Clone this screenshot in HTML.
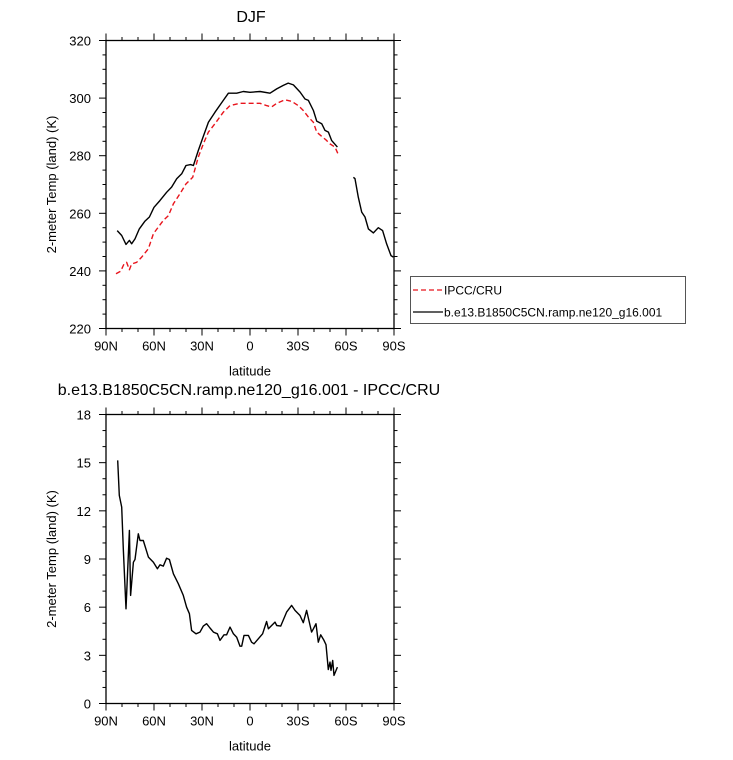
<!DOCTYPE html>
<html><head><meta charset="utf-8"><style>
body{margin:0;background:#fff;}
svg text{font-family:"Liberation Sans",sans-serif;fill:#000;}
</style></head><body>
<svg id="c" width="733" height="755" xmlns="http://www.w3.org/2000/svg"></svg>
<script>
const xTickLabels=["90N","60N","30N","0","30S","60S","90S"];
const xTickLats=[90,60,30,0,-30,-60,-90];
const topYTicks=[220,240,260,280,300,320];
const botYTicks=[0,3,6,9,12,15,18];
const modelLat=[83.0,80.2,77.5,75.4,74.0,71.9,69.2,65.6,62.9,60.0,56.3,52.1,49.0,45.8,42.7,40.0,37.1,35.4,32.3,29.2,26.0,21.9,16.7,13.5,8.3,4.2,0,-6.3,-12.5,-16.7,-20.8,-23.9,-27.1,-31.3,-34.4,-36.5,-39.6,-41.7,-44.8,-46.9,-49.0,-51.0,-54.6,null,-64.6,-65.6,-67.7,-69.8,-71.9,-74.0,-77.1,-80.2,-82.9,-85.4,-88.1,-89.6];
const modelVal=[254.0,252.3,249.2,250.6,249.4,251.1,254.6,257.3,258.7,262.1,264.4,267.3,269.1,272.0,273.7,276.6,276.9,276.6,281.8,286.7,291.6,295.1,299.2,301.7,301.7,302.3,302.0,302.3,301.7,303.2,304.4,305.2,304.6,302.1,299.7,299.2,295.7,292.0,291.1,288.8,288.2,285.3,283.0,null,272.5,272.0,265.6,260.4,258.7,254.6,253.2,255.0,254.0,249.4,245.3,244.8];
const obsLat=[83.75,80.8,78.75,77.1,75.4,74.0,70.8,67.7,63.5,60.4,57.3,54.2,51.0,47.9,43.75,40.0,35.8,32.3,29.2,26.0,21.9,16.7,12.5,6.25,0,-6.25,-10.4,-13.5,-16.7,-21.9,-26.0,-30.2,-33.3,-36.5,-39.6,-41.7,-44.8,-47.5,-50.0,-53.1,-55.2];
const obsVal=[239.0,239.9,242.4,243.0,240.4,242.4,243.0,244.8,247.7,252.9,255.2,257.5,259.2,263.3,266.8,270.2,272.5,279.5,284.1,288.2,291.1,295.1,297.4,298.2,298.2,298.2,297.4,296.9,298.2,299.4,298.9,297.4,295.7,293.4,291.6,288.2,286.7,285.5,284.1,283.0,280.4];
const diffLat=[82.7,81.7,80.2,79.2,77.5,75.4,74.6,72.9,71.9,69.8,68.75,66.7,63.5,60.4,57.9,56.25,54.2,52.1,50.4,47.9,44.8,41.7,39.6,37.9,36.5,33.75,31.25,29.2,27.1,25.0,22.9,20.4,18.75,16.25,14.6,12.5,10.4,8.3,6.25,5.2,3.75,1.0,-1.0,-2.5,-5.2,-7.9,-10.4,-11.5,-15.6,-16.7,-19.2,-22.9,-26.0,-28.1,-31.25,-33.3,-35.4,-38.5,-39.6,-41.25,-42.7,-44.2,-46.25,-47.5,-48.95,-50.0,-50.6,-51.7,-52.5,-54.6];
const diffVal=[15.14,12.96,12.23,9.64,5.90,10.78,6.73,8.80,8.97,10.57,10.15,10.15,9.12,8.80,8.39,8.64,8.56,9.05,8.97,8.08,7.46,6.73,6.00,5.59,4.55,4.34,4.45,4.82,4.97,4.70,4.45,4.34,3.93,4.28,4.28,4.76,4.34,4.13,3.57,3.57,4.24,4.24,3.82,3.72,4.03,4.34,5.11,4.65,5.07,4.86,4.82,5.69,6.11,5.80,5.48,5.03,5.80,4.45,4.65,4.97,3.82,4.28,3.93,3.66,2.12,2.58,2.06,2.68,1.75,2.27];

const NS="http://www.w3.org/2000/svg";
const svg=document.getElementById('c');
function el(t,a,txt){const e=document.createElementNS(NS,t);for(const k in a)e.setAttribute(k,a[k]);if(txt!==undefined)e.textContent=txt;svg.appendChild(e);return e;}
const X0=106,X1=394;
const xs=lat=>X0+(90-lat)*(X1-X0)/180;

function panel(name,top,bot,ymin,ymax,yTicks,yMinorStep,ylabel){
  const ys=v=>bot-(v-ymin)*(bot-top)/(ymax-ymin);
  const f=el('rect',{x:X0,y:top,width:X1-X0,height:bot-top,fill:'none',stroke:'#000','stroke-width':1.3});
  
  
  for(let lat=90;lat>=-90;lat-=10){
    const major=lat%30===0;const L=major?7:3.5;const x=xs(lat);
    el('line',{x1:x,y1:top,x2:x,y2:top-L,stroke:'#000','stroke-width':1});
    const t=el('line',{x1:x,y1:bot,x2:x,y2:bot+L,stroke:'#000','stroke-width':1});
    
    
  }
  xTickLats.forEach((lat,i)=>{
    const t=el('text',{x:xs(lat),y:bot+22,'font-size':13,'text-anchor':'middle'},xTickLabels[i]);
    
    
  });
  for(let v=ymin;v<=ymax+1e-6;v+=yMinorStep){
    const major=yTicks.some(t=>Math.abs(t-v)<1e-6);const L=major?7:3.5;const y=ys(v);
    el('line',{x1:X0,y1:y,x2:X0-L,y2:y,stroke:'#000','stroke-width':1});
    el('line',{x1:X1,y1:y,x2:X1+L,y2:y,stroke:'#000','stroke-width':1});
  }
  yTicks.forEach(v=>{
    const t=el('text',{x:X0-15,y:ys(v)+5,'font-size':13,'text-anchor':'end'},String(v));
    
    
  });
  const xl=el('text',{x:250,y:bot+47,'font-size':13,'text-anchor':'middle'},'latitude');
  
  
  const yc=(top+bot)/2;
  const yl=el('text',{x:56,y:yc,'font-size':13,'text-anchor':'middle',transform:`rotate(-90 56 ${yc})`},ylabel);
  
  
  return ys;
}
function line(lats,vals,ys,attrs,name){
  let d='',pen=false;
  for(let i=0;i<lats.length;i++){
    if(lats[i]===null||vals[i]===null){pen=false;continue;}
    d+=(pen?'L':'M')+xs(lats[i]).toFixed(1)+' '+ys(vals[i]).toFixed(1);pen=true;
  }
  const p=el('path',Object.assign({d:d,fill:'none','stroke-linejoin':'round'},attrs));
  
  
}
const t1=el('text',{x:251,y:22,'font-size':16,'text-anchor':'middle'},'DJF');


const ysT=panel('top-plot',40.5,328.5,220,320,topYTicks,5,'2-meter Temp (land) (K)');
line(obsLat,obsVal,ysT,{stroke:'#e8141c','stroke-width':1.4,'stroke-dasharray':'5 3'},'ipcc-cru-line');
line(modelLat,modelVal,ysT,{stroke:'#000','stroke-width':1.4},'model-line');

const lg=el('rect',{x:410.5,y:276.5,width:275,height:47,fill:'#fff',stroke:'#555','stroke-width':1});


el('line',{x1:413,y1:290,x2:443,y2:290,stroke:'#e8141c','stroke-width':1.3,'stroke-dasharray':'5 3'});
const l1=el('text',{x:444,y:294.5,'font-size':12},'IPCC/CRU');


el('line',{x1:413,y1:312,x2:443,y2:312,stroke:'#000','stroke-width':1.3});
const l2=el('text',{x:444,y:316.5,'font-size':12},'b.e13.B1850C5CN.ramp.ne120_g16.001');



const t2=el('text',{x:249,y:395,'font-size':16,'text-anchor':'middle'},'b.e13.B1850C5CN.ramp.ne120_g16.001 - IPCC/CRU');


const ysB=panel('bottom-plot',414.5,703.5,0,18,botYTicks,1,'2-meter Temp (land) (K)');
line(diffLat,diffVal,ysB,{stroke:'#000','stroke-width':1.4},'difference-line');
</script>
</body></html>
